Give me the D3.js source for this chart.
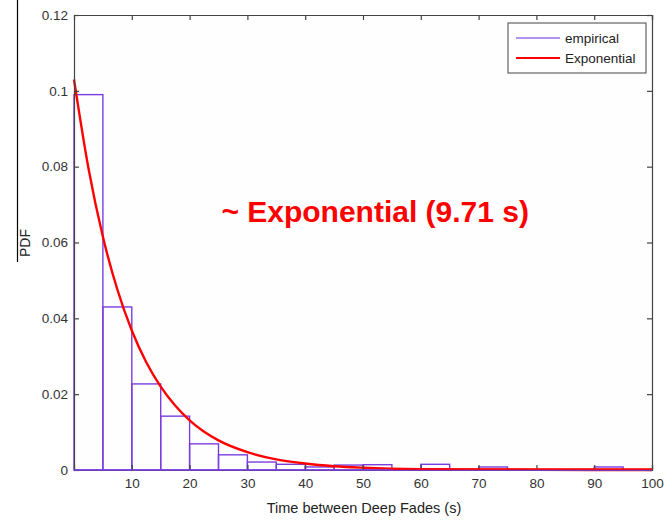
<!DOCTYPE html>
<html>
<head>
<meta charset="utf-8">
<script src="https://cdn.jsdelivr.net/npm/d3@7"></script>
<style>
  body { margin: 0; background: #fff; }
  svg { display: block; font-family: "Liberation Sans", Arial, sans-serif; }
</style>
</head>
<body>
<div id="chart"></div>
<script>
// histogram bins (s) and empirical pdf per bin
const binEdges = d3.range(0, 105, 5);
const empirical = [0.099, 0.043, 0.0227, 0.0142, 0.0069, 0.0040, 0.0021, 0.0015, 0.0008, 0.0013,
                   0.0014, 0, 0.0015, 0, 0.0008, 0, 0, 0, 0.0008, 0];

// fitted exponential curve
const fitX = [0, 2.5, 5, 7.5, 10, 12.5, 15, 17.5, 20, 25, 30, 35, 40, 45, 50, 60, 70, 80, 100];
const fitY = [0.1030, 0.0796, 0.0615, 0.0476, 0.0368, 0.0284, 0.0220, 0.0170, 0.0131, 0.0078,
              0.0047, 0.0028, 0.0017, 0.0010, 0.0006, 0.0002, 0.0001, 0.00003, 0];

const xTicks = [10, 20, 30, 40, 50, 60, 70, 80, 90, 100];
const yTicks = [0, 0.02, 0.04, 0.06, 0.08, 0.1, 0.12];

const W = 672, H = 520;
const margin = { top: 15, right: 20, bottom: 50, left: 74 };
const width = W - margin.left - margin.right;
const height = H - margin.top - margin.bottom;

const x = d3.scaleLinear().domain([0, 100]).range([0, width]);
const y = d3.scaleLinear().domain([0, 0.12]).range([height, 0]);

const svg = d3.select("#chart").append("svg")
  .attr("width", W)
  .attr("height", H);

// stray black edge at left of the figure
svg.append("line")
  .attr("x1", 17.5).attr("x2", 17.5)
  .attr("y1", 0).attr("y2", 262)
  .attr("stroke", "#000").attr("stroke-width", 1.2);

const g = svg.append("g")
  .attr("transform", `translate(${margin.left},${margin.top})`);

// plot background
g.append("rect")
  .attr("width", width).attr("height", height)
  .attr("fill", "#fefefe");

// histogram bars
const bins = empirical.map((v, i) => ({ x0: binEdges[i], x1: binEdges[i + 1], v }));
g.selectAll("rect.bar")
  .data(bins)
  .join("rect")
  .attr("class", "bar")
  .attr("x", d => x(d.x0))
  .attr("y", d => y(d.v))
  .attr("width", d => x(d.x1) - x(d.x0))
  .attr("height", d => y(0) - y(d.v))
  .attr("fill", "none")
  .attr("stroke", "#7a3ee0")
  .attr("stroke-width", 1.4);

// exponential fit
const line = d3.line()
  .x((d, i) => x(fitX[i]))
  .y(d => y(d))
  .curve(d3.curveMonotoneX);

g.append("path")
  .datum(fitY)
  .attr("fill", "none")
  .attr("stroke", "#ff0000")
  .attr("stroke-width", 2.4)
  .attr("d", line);

// axes, matlab style: ticks inside on all four sides
const axisColor = "#444";
const fmt = d => d === 0 ? "0" : d3.format("~g")(d);

const axBottom = g.append("g")
  .attr("transform", `translate(0,${height})`)
  .call(d3.axisBottom(x).tickValues(xTicks).tickSize(-5).tickPadding(8));
const axLeft = g.append("g")
  .call(d3.axisLeft(y).tickValues(yTicks).tickFormat(fmt).tickSize(-5).tickPadding(6));
const axTop = g.append("g")
  .call(d3.axisTop(x).tickValues(xTicks).tickSize(-5).tickFormat(""));
const axRight = g.append("g")
  .attr("transform", `translate(${width},0)`)
  .call(d3.axisRight(y).tickValues(yTicks).tickSize(-5).tickFormat(""));

[axBottom, axLeft, axTop, axRight].forEach(a => {
  a.select(".domain").attr("stroke", axisColor).attr("stroke-width", 1.2);
  a.selectAll(".tick line").attr("stroke", axisColor).attr("stroke-width", 1.2);
  a.selectAll(".tick text")
    .attr("fill", "#333")
    .style("font-size", "13.5px")
    .style("font-family", "\"Liberation Sans\", Arial, sans-serif");
});
// baseline redrawn in the histogram colour
g.append("line")
  .attr("x1", 0).attr("x2", width)
  .attr("y1", y(0)).attr("y2", y(0))
  .attr("stroke", "#7a3ee0").attr("stroke-width", 1.6);
g.append("line")
  .attr("x1", x(55)).attr("x2", width)
  .attr("y1", y(0) - 1).attr("y2", y(0) - 1)
  .attr("stroke", "#ff0000").attr("stroke-width", 1.6);

// axis titles
svg.append("text")
  .attr("x", margin.left + width / 2 + 1)
  .attr("y", 513)
  .attr("text-anchor", "middle")
  .style("font-size", "14.5px")
  .attr("fill", "#222")
  .text("Time between Deep Fades (s)");

svg.append("text")
  .attr("transform", `translate(30,243) rotate(-90)`)
  .attr("text-anchor", "middle")
  .style("font-size", "14px")
  .attr("fill", "#222")
  .text("PDF");

// annotation
g.append("text")
  .attr("x", x(25.5))
  .attr("y", 207)
  .attr("fill", "#ff0000")
  .style("font-size", "30px")
  .style("font-weight", "bold")
  .text("~ Exponential (9.71 s)");

// legend
const legend = svg.append("g").attr("transform", "translate(508,23)");
legend.append("rect")
  .attr("width", 138).attr("height", 50)
  .attr("fill", "#fff")
  .attr("stroke", "#444").attr("stroke-width", 1);
const legendItems = [
  { name: "empirical", color: "#9b6fe6", w: 1.4 },
  { name: "Exponential", color: "#ff0000", w: 2.2 }
];
legendItems.forEach((d, i) => {
  const row = legend.append("g").attr("transform", `translate(0,${15 + i * 20})`);
  row.append("line")
    .attr("x1", 8).attr("x2", 52)
    .attr("stroke", d.color).attr("stroke-width", d.w);
  row.append("text")
    .attr("x", 57).attr("y", 5)
    .style("font-size", "13.5px")
    .attr("fill", "#222")
    .text(d.name);
});
</script>
</body>
</html>
